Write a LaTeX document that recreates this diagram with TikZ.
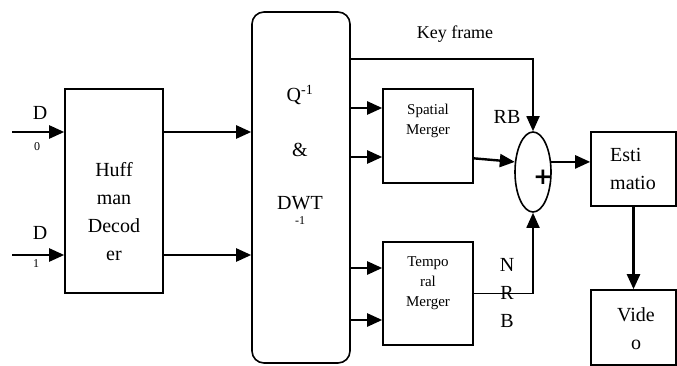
\documentclass[tikz,border=0pt]{standalone}
\usepackage{fontspec}
\setmainfont{Liberation Serif}
\newfontfamily\plusfont{DejaVu Sans}
\usetikzlibrary{arrows.meta,shapes.geometric}

\begin{document}
\begin{tikzpicture}[x=1pt,y=-1pt,
  box/.style={draw,line width=1.6pt,inner sep=0pt},
  arr/.style={line width=2.4pt,-{Triangle[length=15pt,width=13pt]}},
  thinarr/.style={line width=1.8pt,-{Triangle[length=15pt,width=13pt]}},
  big/.style={font=\fontsize{20}{28}\selectfont,inner sep=0pt,align=center},
  small/.style={font=\fontsize{15}{20}\selectfont,inner sep=0pt,align=center},
  tiny/.style={font=\fontsize{12}{12}\selectfont,inner sep=0pt}]
\useasboundingbox (0,0) rectangle (677,366);

% blocks
\node[box,minimum width=98pt,minimum height=204pt] (huff) at (114,191) {};
\node[box,rounded corners=12pt,minimum width=98pt,minimum height=351pt] (dwt) at (301,187.5) {};
\node[box,minimum width=90pt,minimum height=94pt] (spatial) at (428,136) {};
\node[box,minimum width=90pt,minimum height=103pt] (temporal) at (428,293.5) {};
\node[box,ellipse,minimum width=36pt,minimum height=80pt] (sum) at (533,172) {};
\node[box,minimum width=85pt,minimum height=74pt] (esti) at (633.5,169) {};
\node[box,minimum width=85pt,minimum height=75pt] (video) at (633.5,327.5) {};

% texts
\node[big] (hufftxt) at (114,212) {Huff\\man\\Decod\\er};
\node[big] (qinv) at (300,95) {Q\textsuperscript{-1}};
\node[big] (amp) at (300,150) {\&};
\node[big] (dwttxt) at (300,203) {DWT};
\node[tiny] (dwtsup) at (300,221) {-1};
\node[small] (spattxt) at (428,121) {Spatial\\Merger};
\node[small] (temptxt) at (428,283) {Tempo\\ral\\Merger};
\node[font=\plusfont\fontsize{23}{23}\selectfont\bfseries,inner sep=0pt] (plus) at (543,177) {+};
\node[big,align=left,anchor=west] (estitxt) at (610,169) {Esti\\matio};
\node[big] (videotxt) at (636,329) {Vide\\o};
\node[font=\fontsize{18}{18}\selectfont,inner sep=0pt] (keytxt) at (455,34) {Key frame};
\node[big] (rb) at (507,117) {RB};
\node[big] (nrb) at (507,293) {N\\R\\B};
\node[big] (d0) at (40,113) {D};
\node[tiny] (d0sub) at (37,147) {0};
\node[big] (d1) at (40,233) {D};
\node[tiny] (d1sub) at (36,264) {1};

% connectors
\coordinate (in0) at (12,132);
\coordinate (in1) at (12,255);
\coordinate (kf) at (0,59);
\draw[arr] (in0) -- (in0 -| huff.west);
\draw[arr] (in1) -- (in1 -| huff.west);
\draw[arr] (in0 -| huff.east) -- (in0 -| dwt.west);
\draw[arr] (in1 -| huff.east) -- (in1 -| dwt.west);
\foreach \y in {108,157}
  \draw[arr] (dwt.east |- 0,\y) -- (spatial.west |- 0,\y);
\foreach \y in {268,320}
  \draw[arr] (dwt.east |- 0,\y) -- (temporal.west |- 0,\y);
\draw[thinarr] (kf -| dwt.east) -| (sum.north);
\draw[arr] (spatial.-26) -- (sum.151);
\draw[thinarr] (temporal.east) -| (sum.south);
\draw[arr] (sum.29) -- (sum.29 -| esti.west);
\draw[arr] (esti.south) -- (video.north);
\end{tikzpicture}
\end{document}
